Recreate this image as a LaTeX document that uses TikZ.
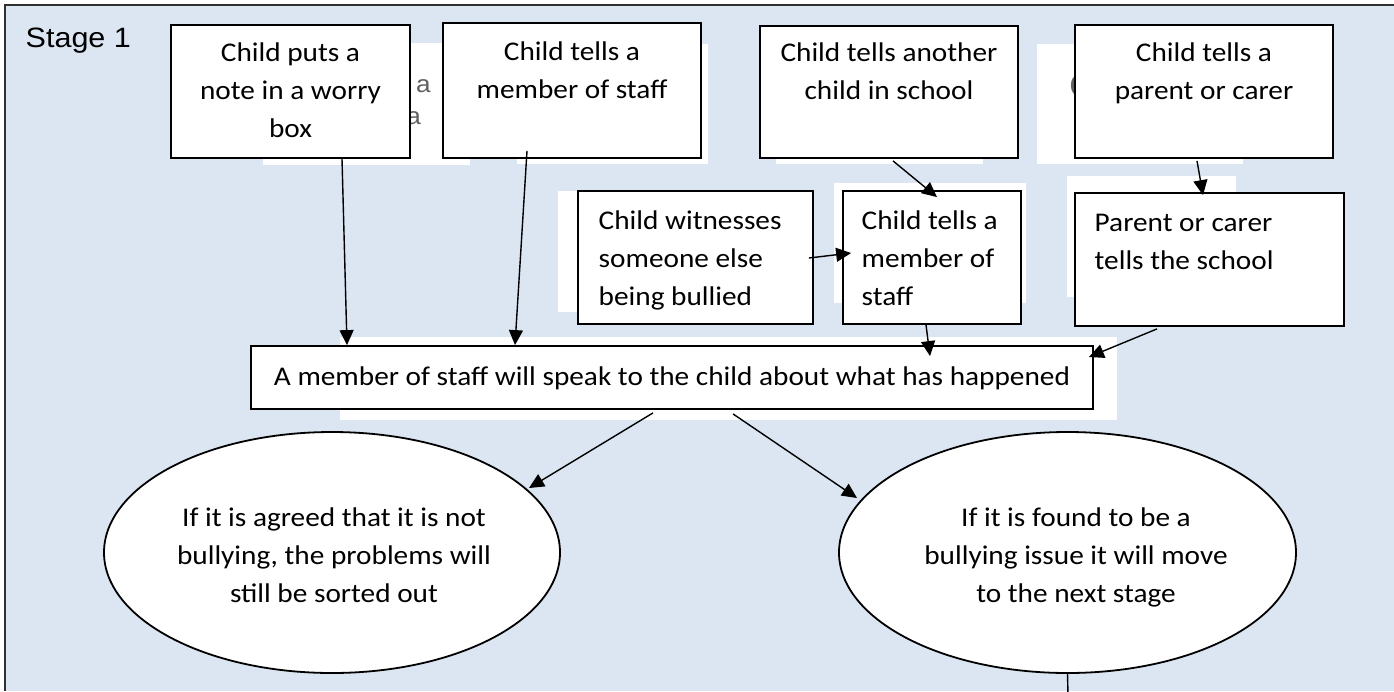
\documentclass[tikz,border=0pt]{standalone}
\usepackage{fontspec}
\setmainfont{Carlito}[FakeStretch=1.085]
\newfontfamily\arialf{Liberation Sans}[FakeStretch=1.09]
\usetikzlibrary{arrows.meta,calc,shapes.geometric}
\definecolor{bgblue}{HTML}{DCE6F2}
\definecolor{ghost}{HTML}{606060}
\definecolor{framec}{HTML}{303030}
\begin{document}
\begin{tikzpicture}[x=1pt,y=-1pt,
  box/.style={draw=black, fill=white, line width=1.8pt, inner sep=0pt, align=center, font=\fontsize{27}{38}\selectfont},
  oval/.style={draw=black, fill=white, line width=1.8pt, ellipse, inner sep=0pt},
  txt/.style={inner sep=0pt, font=\fontsize{27}{38}\selectfont},
  conn/.style={line width=1.4pt, -{Triangle[length=15pt,width=14pt]}},
  patch/.style={fill=white, draw=none},
  ghosttxt/.style={inner sep=0pt, text=ghost, font=\arialf\fontsize{24}{30}\selectfont}]
\useasboundingbox (0,0) rectangle (1394,691);
% background frame
\fill[bgblue] (5,5) rectangle (1394,691);
\draw[line width=1.8pt, framec] (1394,5) -- (5,5) -- (5,691);
% white backing patches
\fill[patch] (263,43) rectangle (470,165);
\fill[patch] (517,44) rectangle (708,164);
\fill[patch] (776,44) rectangle (983,164);
\fill[patch] (1037,44) rectangle (1243,164);
\fill[patch] (558,191) rectangle (800,312);
\fill[patch] (834,183) rectangle (1026,303);
\fill[patch] (1067,176) rectangle (1236,297);
\fill[patch] (340,337) rectangle (1117,420);
% ghost text fragments
\node[ghosttxt, anchor=base east] (g1) at (431,92) {ts a};
\node[ghosttxt, anchor=base east] (g2) at (421,124) {a};
\node[ghosttxt, anchor=base west, font=\arialf\fontsize{34}{40}\selectfont] (g3) at (1069,97) {C};
% title
\node[inner sep=0pt, anchor=base west, font=\arialf\fontsize{28}{32}\selectfont] (stage) at (25.5,47) {Stage 1};
% top row
\node[box, minimum width=239pt, minimum height=133pt] (b1) at (290.5,91.5) {\strut Child puts a\\note in a worry\\box\strut};
\node[box, minimum width=258pt, minimum height=135pt] (b2) at (572,90.5) {\strut Child tells a\\member of staff\\\strut};
\node[box, minimum width=258pt, minimum height=132pt] (b3) at (889,92) {\strut Child tells another\\child in school\\\strut};
\node[box, minimum width=258pt, minimum height=133pt] (b4) at (1204,91.5) {\strut Child tells a\\parent or carer\\\strut};
% middle row
\node[box, minimum width=235pt, minimum height=133pt] (b5) at (695.5,257.5) {};
\node[txt, anchor=west, align=left] (t5) at (598.5,260) {\strut Child witnesses\\someone else\\being bullied\strut};
\node[box, minimum width=178pt, minimum height=133pt] (b6) at (932,257.5) {};
\node[txt, anchor=west, align=left] (t6) at (861.5,260) {\strut Child tells a\\member of\\staff\strut};
\node[box, minimum width=269pt, minimum height=133pt] (b7) at (1209.5,259.5) {};
\node[txt, anchor=west, align=left] (t7) at (1094.5,262) {\strut Parent or carer\\tells the school\\\strut};
% main box
\node[box, minimum width=842pt, minimum height=63pt] (m) at (672,377.5) {\strut A member of staff will speak to the child about what has happened};
% ellipses
\node[oval, minimum width=456pt, minimum height=241pt] (e1) at (332,552.5) {};
\node[txt, align=center] (t1) at (334,557) {\strut If it is agreed that it is not\\bullying, the problems will\\still be sorted out\strut};
\node[oval, minimum width=457pt, minimum height=241pt] (e2) at (1067.5,552.5) {};
\node[txt, align=center] (t2) at (1076,557) {\strut If it is found to be a\\bullying issue it will move\\to the next stage\strut};
% connectors
\draw[conn] ($(b1.south)+(51.5,0)$) -- ($(m.north)+(-325,0)$);
\draw[conn] ($(b2.south)+(-45,-8)$) -- ($(m.north)+(-157,0)$);
\draw[conn] ($(b3.south)+(4,2)$) -- ($(b6.north)+(5,7)$);
\draw[conn] ($(b5.east)+(-5,0.5)$) -- ($(b6.west)+(9,-4.5)$);
\draw[conn] ($(b6.south)+(-6,0)$) -- ($(m.north)+(258,11)$);
\draw[conn] ($(b4.south)+(-7,2)$) -- ($(b7.north)+(-6.5,3)$);
\draw[conn] ($(b7.south)+(-52.5,2)$) -- ($(m.east)+(-5,-20.5)$);
\draw[conn] ($(m.south)+(-19,3)$) -- ($(e1.center)+(197,-64.5)$);
\draw[conn] ($(m.south)+(61,4)$) -- ($(e2.center)+(-210.5,-54.5)$);
\coordinate (exit) at (1068,695);
\draw[line width=1.4pt] (e2.south) -- (exit);
\end{tikzpicture}
\end{document}
